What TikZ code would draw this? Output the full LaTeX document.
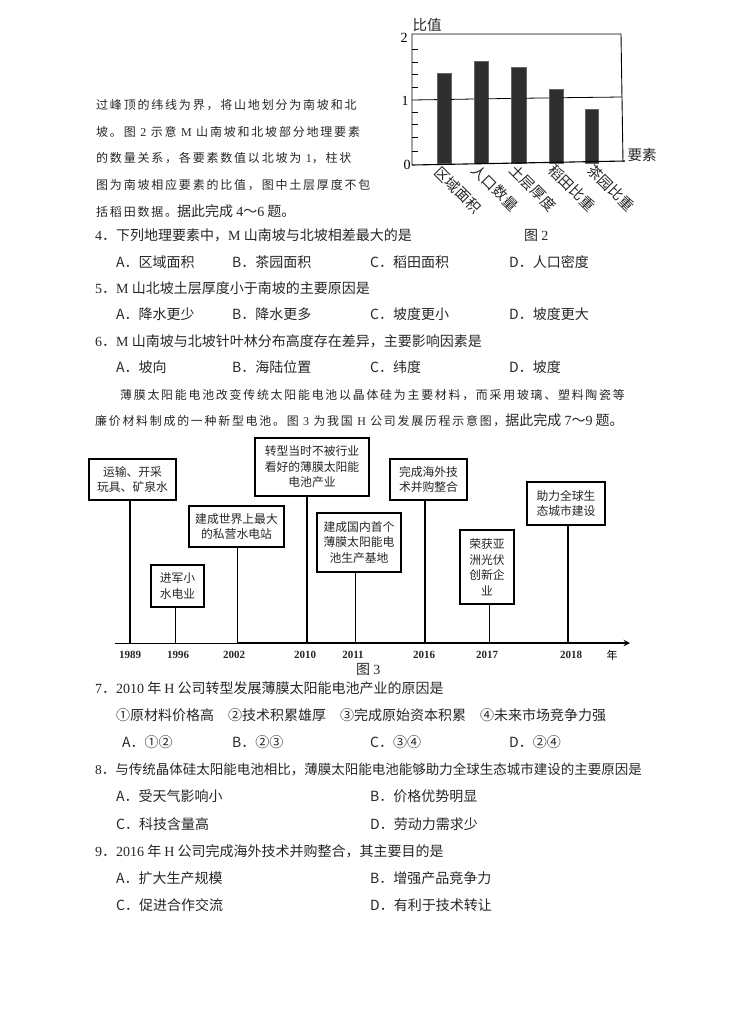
\documentclass[tikz,border=0pt]{standalone}
\usepackage{fontspec}
\setmainfont{Noto Sans CJK SC}
\newfontfamily\spacedcjk[LetterSpace=15]{Noto Sans CJK SC}
\newfontfamily\latfont{Liberation Serif}
\newcommand{\lat}[1]{{\latfont #1}}
\usetikzlibrary{positioning, calc, arrows}
\tikzset{
  txt/.style={anchor=west, inner sep=0pt, yshift=-0.6pt, font=\fontsize{14}{15}\selectfont, text=black!85},
  smalltxt/.style={anchor=west, inner sep=0pt, yshift=-0.6pt, font=\fontsize{12}{14}\selectfont\spacedcjk, text=black!85},
  eventbox/.style={draw, line width=2.4pt, fill=white, inner sep=0pt, align=center, font=\fontsize{11.8}{15.5}\selectfont, text=black!85},
  yearlabel/.style={inner sep=0pt, font=\fontsize{11}{12}\selectfont\latfont\bfseries, text=black!85},
  bar/.style={fill=black!82, draw=black!60, line width=0.4pt},
  chartlabel/.style={inner sep=0pt, font=\fontsize{14.5}{16}\selectfont, text=black!85},
  factorlabel/.style={chartlabel, rotate=-45}
}
\begin{document}
\begin{tikzpicture}[x=1pt, y=-1pt]
  \useasboundingbox (0,0) rectangle (737,1021);

  % bar chart
  \foreach \nm/\xa/\xb/\top in {a/437/451/73, b/474/488/61, c/511/526/67, d/549/563/89, e/585/598/109}
    \draw[bar] (\xa,\top) rectangle (\xb,163);
  \coordinate (tl) at (412,34);
  \coordinate (tr) at (621,34);
  \coordinate (br) at (623,162);
  \coordinate (bl) at (412,165);
  \coordinate (bend) at (625,161);
  \coordinate (onel) at (412,100);
  \coordinate (oner) at (622,97);
  \draw[line width=0.9pt] (bl) -- (tl) -- (tr) -- (br);
  \draw[line width=1.1pt] (bl) -- (bend);
  % the line at value 1 runs behind the bars
  \draw[line width=0.8pt] (onel) -- (437,99.6) (451,99.4) -- (474,99) (488,98.8) -- (511,98.4) (526,98.2) -- (549,97.9) (563,97.7) -- (oner);
  \foreach \yy in {49,62,74,87,112,124,137,151}
    \draw[line width=0.7pt] (412,\yy) -- ++(6,0);
  \node[chartlabel] (ratio) at (427,25) {比值};
  \node[chartlabel] (factor) at (642,155) {要素};
  \node[inner sep=0pt, font=\fontsize{14}{16}\selectfont\latfont] (two) at (404,38) {2};
  \node[inner sep=0pt, font=\fontsize{14}{16}\selectfont\latfont] (one) at (405,101) {1};
  \node[inner sep=0pt, font=\fontsize{14}{16}\selectfont\latfont] (zero) at (407,165) {0};
  \node[factorlabel] (f1) at (458,190) {区域面积};
  \node[factorlabel] (f2) at (495,188) {人口数量};
  \node[factorlabel] (f3) at (533,188) {土层厚度};
  \node[factorlabel] (f4) at (572,188) {稻田比重};
  \node[factorlabel] (f5) at (611,188) {茶园比重};

  % text above the timeline
  \node[smalltxt] (p1) at (96,104) {过峰顶的纬线为界，将山地划分为南坡和北};
  \node[smalltxt] (p2) at (96,131) {坡。图 \lat{2} 示意 \lat{M} 山南坡和北坡部分地理要素};
  \node[smalltxt] (p3) at (96,157) {的数量关系，各要素数值以北坡为 \lat{1}，柱状};
  \node[smalltxt] (p4) at (96,184) {图为南坡相应要素的比值，图中土层厚度不包};
  \node[smalltxt] (p5) at (96,211) {括稻田数据。{\fontsize{14}{15}\selectfont\rmfamily 据此完成 \lat{4}～\lat{6} 题。}};
  \node[txt] (q4) at (95,235) {\lat{4}．下列地理要素中，\lat{M} 山南坡与北坡相差最大的是};
  \node[txt] (fig2) at (524,235) {图 \lat{2}};
  \node[txt] (q4a) at (116,262) {A．区域面积};
  \node[txt] (q4b) at (232,262) {B．茶园面积};
  \node[txt] (q4c) at (370,262) {C．稻田面积};
  \node[txt] (q4d) at (509,262) {D．人口密度};
  \node[txt] (q5) at (95,288) {\lat{5}．\lat{M} 山北坡土层厚度小于南坡的主要原因是};
  \node[txt] (q5a) at (116,314) {A．降水更少};
  \node[txt] (q5b) at (232,314) {B．降水更多};
  \node[txt] (q5c) at (370,314) {C．坡度更小};
  \node[txt] (q5d) at (509,314) {D．坡度更大};
  \node[txt] (q6) at (95,341) {\lat{6}．\lat{M} 山南坡与北坡针叶林分布高度存在差异，主要影响因素是};
  \node[txt] (q6a) at (116,367) {A．坡向};
  \node[txt] (q6b) at (232,367) {B．海陆位置};
  \node[txt] (q6c) at (370,367) {C．纬度};
  \node[txt] (q6d) at (509,367) {D．坡度};
  \node[smalltxt, font=\fontsize{11.9}{14}\selectfont\spacedcjk] (r1) at (120,394) {薄膜太阳能电池改变传统太阳能电池以晶体硅为主要材料，而采用玻璃、塑料陶瓷等};
  \node[smalltxt, font=\fontsize{11.9}{14}\selectfont\spacedcjk] (r2) at (95,420) {廉价材料制成的一种新型电池。图 \lat{3} 为我国 \lat{H} 公司发展历程示意图，{\fontsize{14}{15}\selectfont\rmfamily 据此完成 \lat{7}～\lat{9} 题。}};

  % timeline
  \node[eventbox, minimum width=87pt, minimum height=41pt] (ev1989) at (132.5,479.5) {运输、开采\\玩具、矿泉水};
  \node[eventbox, minimum width=53pt, minimum height=42pt] (ev1996) at (177.5,586) {进军小\\水电业};
  \node[eventbox, minimum width=95pt, minimum height=41pt] (ev2002) at (236.5,526.5) {建成世界上最大\\的私营水电站};
  \node[eventbox, minimum width=114pt, minimum height=58pt] (ev2010) at (312,467) {转型当时不被行业\\看好的薄膜太阳能\\电池产业};
  \node[eventbox, minimum width=84pt, minimum height=59pt] (ev2011) at (359,542.5) {建成国内首个\\薄膜太阳能电\\池生产基地};
  \node[eventbox, minimum width=77pt, minimum height=41pt] (ev2016) at (428.5,479.5) {完成海外技\\术并购整合};
  \node[eventbox, minimum width=54pt, minimum height=74pt] (ev2017) at (487,567) {荣获亚\\洲光伏\\创新企\\业};
  \node[eventbox, minimum width=78pt, minimum height=43pt] (ev2018) at (566,503.5) {助力全球生\\态城市建设};

  \coordinate (axisstart) at (115,643);
  \coordinate (y1989) at (130,643);
  \coordinate (y1996) at (175,643);
  \coordinate (y2002) at (237,643);
  \coordinate (y2010) at (307,643);
  \coordinate (y2011) at (355,643);
  \coordinate (y2016) at (425,643);
  \coordinate (y2017) at (489,643);
  \coordinate (y2018) at (568,643);
  \coordinate (axisend) at (630,643);
  \draw[line width=0.9pt] (axisstart) -- (y2002);
  \draw[->, >=stealth, line width=1.8pt] (y2002) -- (axisend);

  \draw[line width=1.5pt] (ev1989.south -| y1989) -- (y1989);
  \draw[line width=1pt] (ev1996.south -| y1996) -- (y1996);
  \draw[line width=1pt] (ev2002.south -| y2002) -- (y2002);
  \draw[line width=2.4pt] (ev2010.south -| y2010) -- (y2010);
  \draw[line width=0.8pt] (ev2011.south -| y2011) -- (y2011);
  \draw[line width=1.8pt] (ev2016.south -| y2016) -- (y2016);
  \draw[line width=1pt] (ev2017.south -| y2017) -- (y2017);
  \draw[line width=1.2pt] (ev2018.south -| y2018) -- (y2018);

  \node[yearlabel] (l1989) at (130,655) {1989};
  \node[yearlabel] (l1996) at (178,655) {1996};
  \node[yearlabel] (l2002) at (234,655) {2002};
  \node[yearlabel] (l2010) at (305,655) {2010};
  \node[yearlabel] (l2011) at (353,655) {2011};
  \node[yearlabel] (l2016) at (424,655) {2016};
  \node[yearlabel] (l2017) at (487,655) {2017};
  \node[yearlabel] (l2018) at (571,655) {2018};
  \node[inner sep=0pt, font=\fontsize{11}{12}\selectfont] (yearunit) at (612,655) {年};
  \node[txt] (fig3) at (356,669) {图 \lat{3}};

  % text below the timeline
  \node[txt] (q7) at (95,688) {\lat{7}．\lat{2010} 年 \lat{H} 公司转型发展薄膜太阳能电池产业的原因是};
  \node[txt] (c1) at (116,715) {①原材料价格高};
  \node[txt] (c2) at (228,715) {②技术积累雄厚};
  \node[txt] (c3) at (340,715) {③完成原始资本积累};
  \node[txt] (c4) at (480,715) {④未来市场竞争力强};
  \node[txt] (q7a) at (122,742) {A．①②};
  \node[txt] (q7b) at (232,742) {B．②③};
  \node[txt] (q7c) at (370,742) {C．③④};
  \node[txt] (q7d) at (509,742) {D．②④};
  \node[txt, font=\fontsize{13.5}{15}\selectfont] (q8) at (95,769) {\lat{8}．与传统晶体硅太阳能电池相比，薄膜太阳能电池能够助力全球生态城市建设的主要原因是};
  \node[txt] (q8a) at (116,796) {A．受天气影响小};
  \node[txt] (q8b) at (370,796) {B．价格优势明显};
  \node[txt] (q8c) at (116,824) {C．科技含量高};
  \node[txt] (q8d) at (370,824) {D．劳动力需求少};
  \node[txt] (q9) at (95,851) {\lat{9}．\lat{2016} 年 \lat{H} 公司完成海外技术并购整合，其主要目的是};
  \node[txt] (q9a) at (116,878) {A．扩大生产规模};
  \node[txt] (q9b) at (370,878) {B．增强产品竞争力};
  \node[txt] (q9c) at (116,905) {C．促进合作交流};
  \node[txt] (q9d) at (370,905) {D．有利于技术转让};
\end{tikzpicture}
\end{document}
